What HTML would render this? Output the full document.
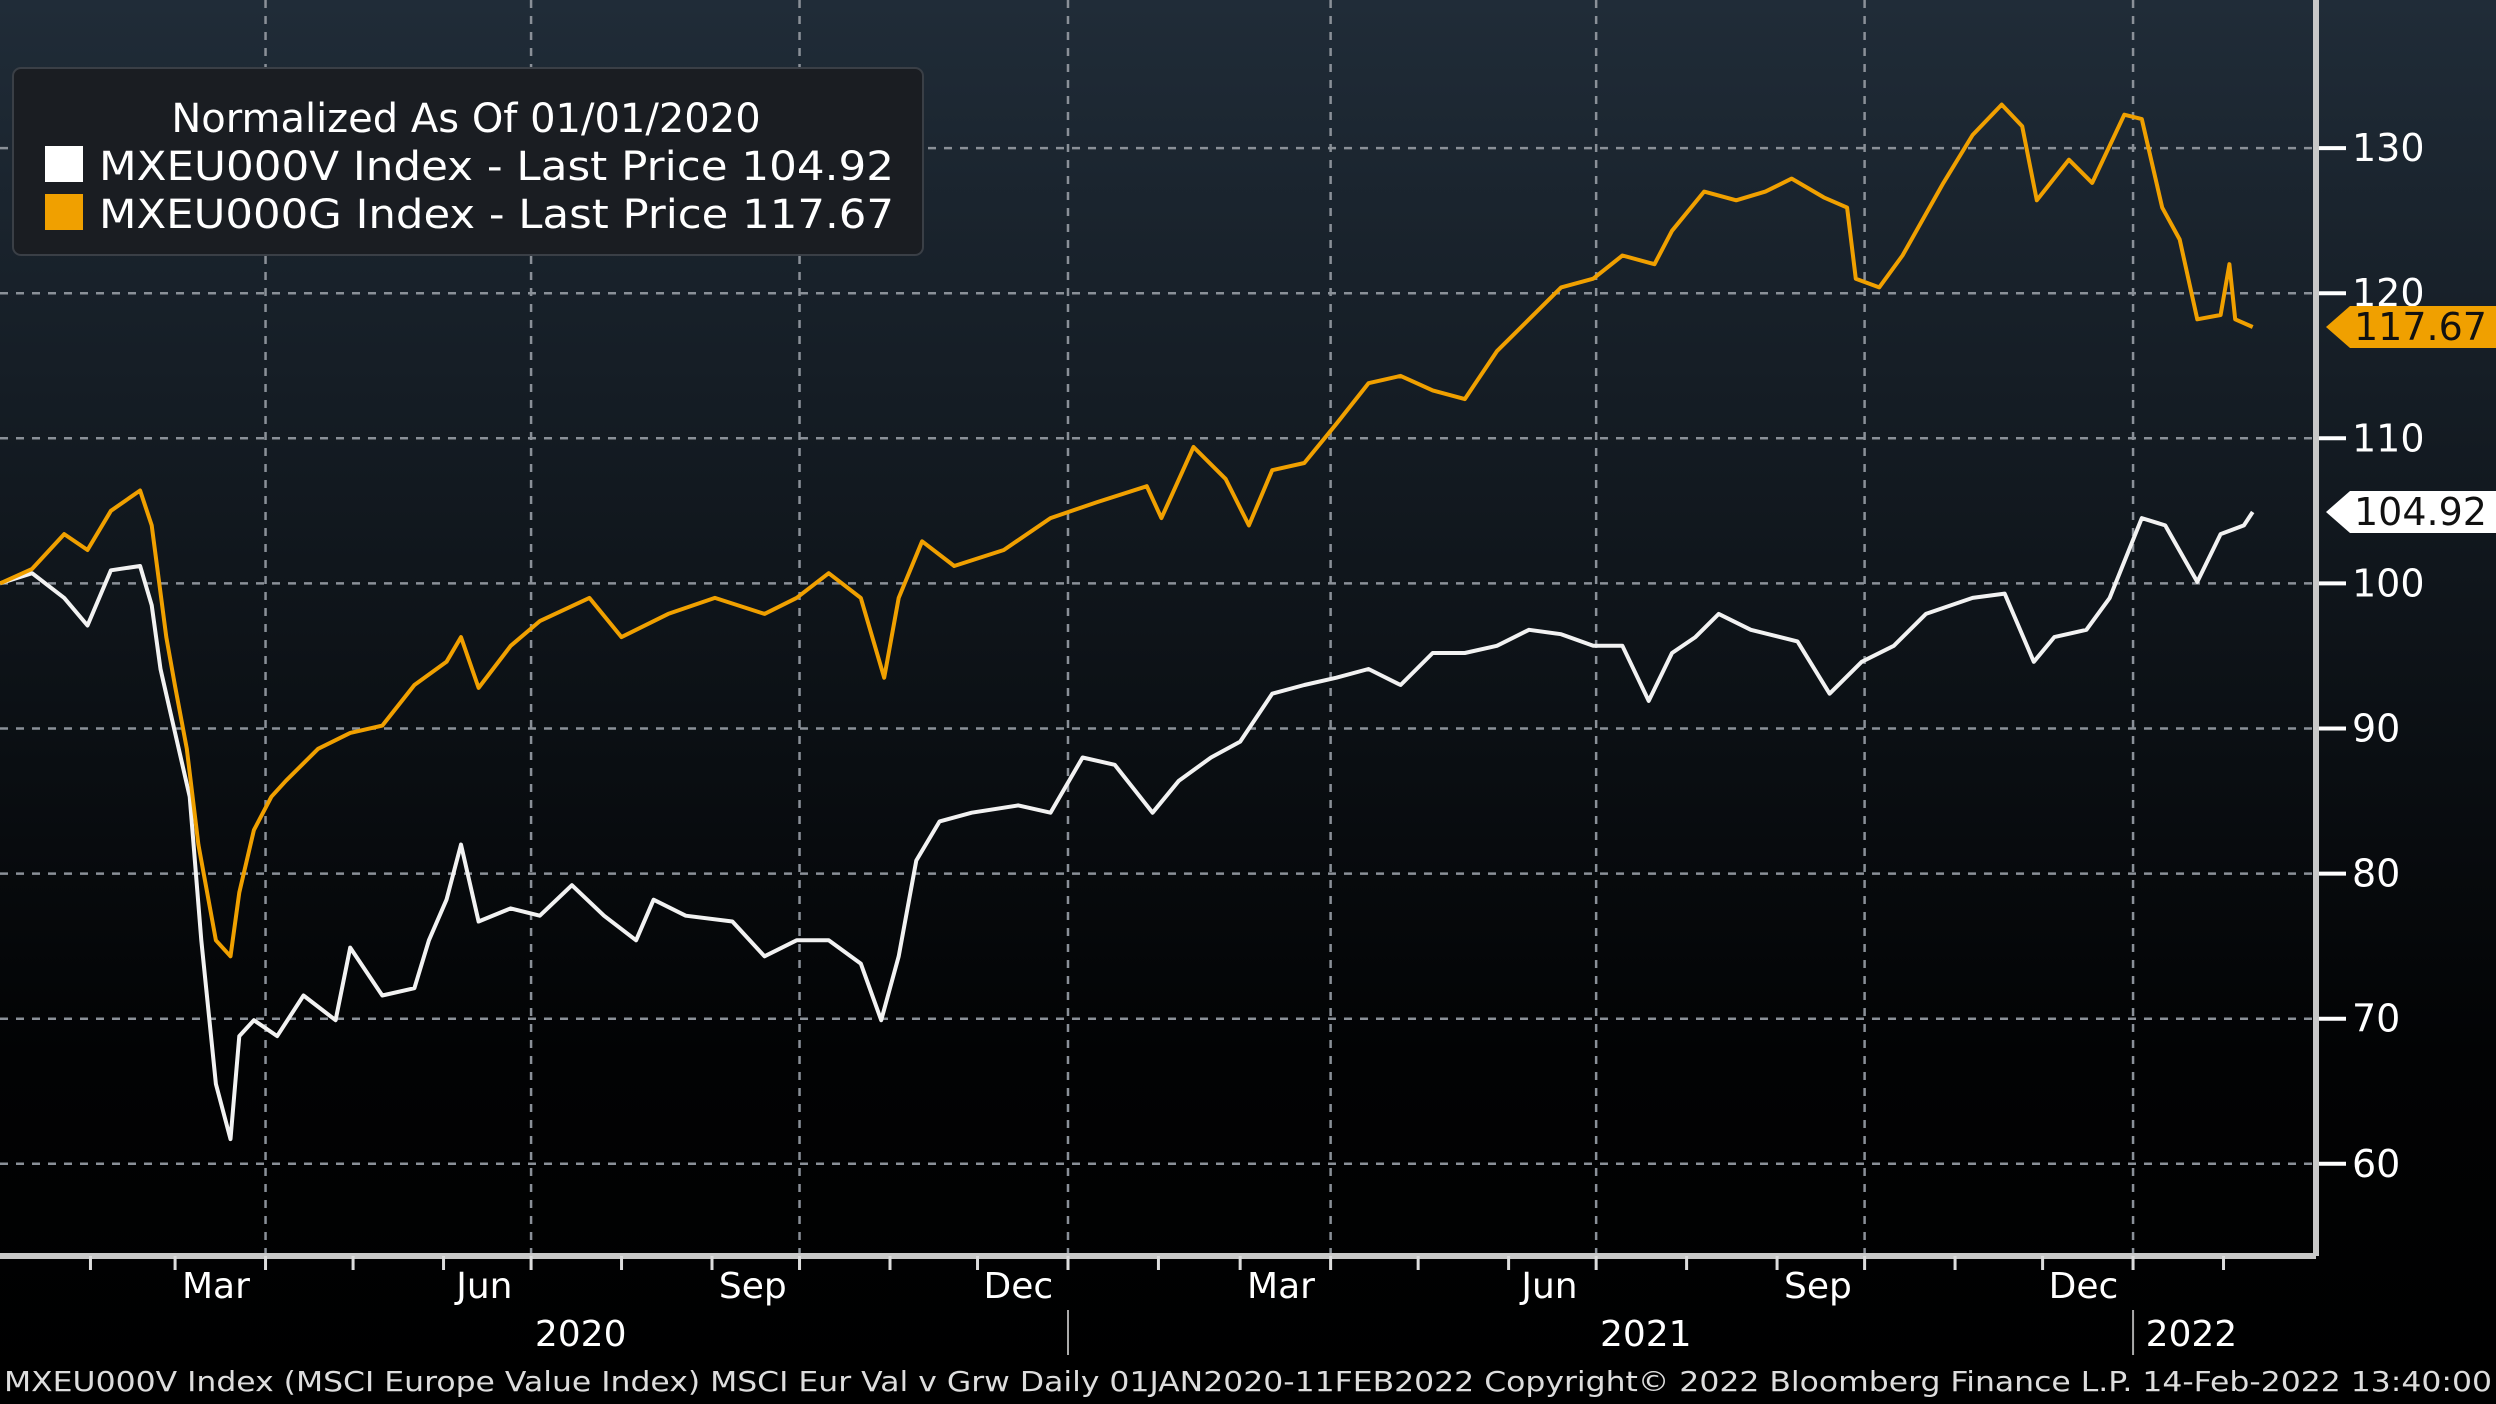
<!DOCTYPE html>
<html><head><meta charset="utf-8"><style>
html,body{margin:0;padding:0;background:#000;}
svg{display:block;font-family:"DejaVu Sans","Liberation Sans",sans-serif;}
</style></head><body>
<svg id="chart" width="2496" height="1404" viewBox="0 0 2496 1404" xmlns="http://www.w3.org/2000/svg">
<defs><linearGradient id="bg" x1="0" y1="0" x2="0" y2="1">
<stop offset="0" stop-color="#202c38"/><stop offset="0.75" stop-color="#020304"/><stop offset="1" stop-color="#000"/></linearGradient></defs>
<rect x="0" y="0" width="2496" height="1404" fill="url(#bg)"/>
<g id="grid"></g>
<g id="series"></g>
<g id="axes"></g>
<g>
<rect x="13" y="68" width="910" height="187" rx="8" fill="#1a1d22" stroke="#3a3f46" stroke-width="2"/>
<text x="466" y="132" fill="#fff" font-size="40" text-anchor="middle">Normalized As Of 01/01/2020</text>
<rect x="45" y="146" width="38" height="36" fill="#fff"/>
<text x="99" y="180" fill="#fff" font-size="40" textLength="795" lengthAdjust="spacingAndGlyphs">MXEU000V Index  - Last Price  104.92</text>
<rect x="45" y="194" width="38" height="36" fill="#f0a000"/>
<text x="99" y="228" fill="#fff" font-size="40" textLength="795" lengthAdjust="spacingAndGlyphs">MXEU000G Index  - Last Price  117.67</text>
</g>
<text x="4" y="1391" fill="#ddd" font-size="28" textLength="2488" lengthAdjust="spacingAndGlyphs">MXEU000V Index (MSCI Europe Value Index) MSCI Eur Val v Grw  Daily 01JAN2020-11FEB2022    Copyright© 2022 Bloomberg Finance L.P.    14-Feb-2022 13:40:00</text>
</svg>
<script>
const growthDays=[0,11,22,30,38,48,52,57,60,64,68,74,79,82,87,93,98,109,120,131,142,153,158,164,175,185,202,213,229,245,262,273,284,295,303,308,316,327,344,360,376,393,398,409,420,428,436,447,458,469,480,491,502,513,524,535,546,556,567,573,584,595,605,614,625,633,636,644,652,666,676,686,693,698,709,717,728,734,741,747,753,761,764,766,772];
const growthValues=[100,101,103.4,102.3,105,106.4,104,96.3,92.9,88.6,82,75.4,74.3,78.7,83,85.3,86.4,88.6,89.7,90.2,93,94.6,96.3,92.8,95.7,97.4,99,96.3,97.9,99,97.9,99,100.7,99,93.5,99,102.9,101.2,102.3,104.5,105.6,106.7,104.5,109.4,107.2,104,107.8,108.3,111,113.8,114.3,113.3,112.7,116,118.2,120.4,121,122.6,122,124.3,127,126.4,127,127.9,126.6,125.9,121,120.4,122.6,127.6,130.9,133,131.5,126.4,129.2,127.6,132.3,132,125.9,123.7,118.2,118.5,122,118.2,117.67];
const valueDays=[0,11,22,30,38,48,52,55,60,65,69,74,79,82,87,95,104,115,120,131,142,147,153,158,164,175,185,196,207,218,224,235,251,262,273,284,295,302,308,314,322,333,349,360,371,382,395,404,415,425,436,447,458,469,480,491,502,513,524,535,546,556,565,573,581,589,600,616,627,638,649,660,676,687,697,704,715,723,734,742,753,761,769,772];
const valueValues=[100,100.7,99,97.1,100.9,101.2,98.5,94.1,89.7,85.3,75.4,65.5,61.7,68.8,69.9,68.8,71.6,69.9,74.9,71.6,72.1,75.4,78.2,82,76.7,77.6,77.1,79.2,77.1,75.4,78.2,77.1,76.7,74.3,75.4,75.4,73.8,69.9,74.3,80.9,83.6,84.2,84.7,84.2,88,87.5,84.2,86.4,88,89.1,92.4,93,93.5,94.1,93,95.2,95.2,95.7,96.8,96.5,95.7,95.7,91.9,95.2,96.3,97.9,96.8,96,92.4,94.6,95.7,97.9,99,99.3,94.6,96.3,96.8,99,104.5,104,100.1,103.4,104,104.92];
const yTicks=[60,70,80,90,100,110,120,130];
const monthLabels=["Mar","Jun","Sep","Dec","Mar","Jun","Sep","Dec"];
const monthLabelDays=[74,166,258,349,439,531,623,714];
const quarterDays=[91,182,274,366,456,547,639,731];
const yearLabels=["2020","2021","2022"];
const yearLabelDays=[199,564,751];
const yearBoundaryDays=[366,731];
const monthTickDays=[31,60,91,121,152,182,213,244,274,305,335,366,397,425,456,486,517,547,578,609,639,670,700,731,762];

const NS="http://www.w3.org/2000/svg";
const PX_DAY=2.918, AXX=2316, AXY=1256;
const X=d=>d*PX_DAY;
const Y=v=>583.4-(v-100)*14.51;
function mk(tag,attrs,parent){const e=document.createElementNS(NS,tag);for(const k in attrs)e.setAttribute(k,attrs[k]);parent.appendChild(e);return e;}
const grid=document.getElementById('grid'),ser=document.getElementById('series'),axes=document.getElementById('axes');
yTicks.forEach(v=>{
 const l=mk('line',{x1:0,x2:AXX,y1:Y(v),y2:Y(v),stroke:'#8a9098','stroke-width':2.5,'stroke-dasharray':'8 8'},grid);
 
 
 const t=mk('line',{x1:AXX,x2:AXX+30,y1:Y(v),y2:Y(v),stroke:'#fff','stroke-width':4},axes);
 
 
 const tx=mk('text',{x:2352,y:Y(v)+13,fill:'#fff','font-size':38},axes);
 tx.textContent=v;
 
 
});
quarterDays.forEach(d=>{
 const l=mk('line',{x1:X(d),x2:X(d),y1:0,y2:AXY,stroke:'#8a9098','stroke-width':2.5,'stroke-dasharray':'8 8'},grid);
 
 
});
function line(days,vals,color,name){
 const p=mk('polyline',{points:days.map((d,i)=>X(d).toFixed(1)+','+Y(vals[i]).toFixed(1)).join(' '),fill:'none',stroke:color,'stroke-width':4,'stroke-linejoin':'round'},ser);
 
 
}
line(valueDays,valueValues,'#f2f2f2','line-value-index');
line(growthDays,growthValues,'#f0a000','line-growth-index');
const va=mk('line',{x1:AXX,x2:AXX,y1:0,y2:AXY,stroke:'#c8c8c8','stroke-width':6},axes);


const ha=mk('line',{x1:0,x2:AXX,y1:AXY,y2:AXY,stroke:'#c8c8c8','stroke-width':6},axes);


monthTickDays.forEach(d=>{
 const t=mk('line',{x1:X(d),x2:X(d),y1:AXY,y2:AXY+14,stroke:'#ddd','stroke-width':3},axes);
 
 
});
monthLabels.forEach((m,i)=>{
 const t=mk('text',{x:X(monthLabelDays[i]),y:1298,fill:'#fff','font-size':36,'text-anchor':'middle'},axes);
 t.textContent=m;
 
 
});
yearLabels.forEach((y,i)=>{
 const t=mk('text',{x:X(yearLabelDays[i]),y:1346,fill:'#fff','font-size':36,'text-anchor':'middle'},axes);
 t.textContent=y;
 
 
});
yearBoundaryDays.forEach(d=>{
 const t=mk('line',{x1:X(d),x2:X(d),y1:1310,y2:1355,stroke:'#aaa','stroke-width':2},axes);
 
 
});
function tag(v,fill,txt,name){
 const y=Y(v);
 const p=mk('polygon',{points:`2326,${y} 2350,${y-21} 2496,${y-21} 2496,${y+21} 2350,${y+21}`,fill:fill},axes);
 
 
 const t=mk('text',{x:2354,y:y+13,fill:'#111','font-size':38},axes);
 t.textContent=v.toFixed(2);
 
 
}
tag(growthValues[growthValues.length-1],'#f0a000','','last-price-tag-growth');
tag(valueValues[valueValues.length-1],'#fff','','last-price-tag-value');
</script>
</body></html>
